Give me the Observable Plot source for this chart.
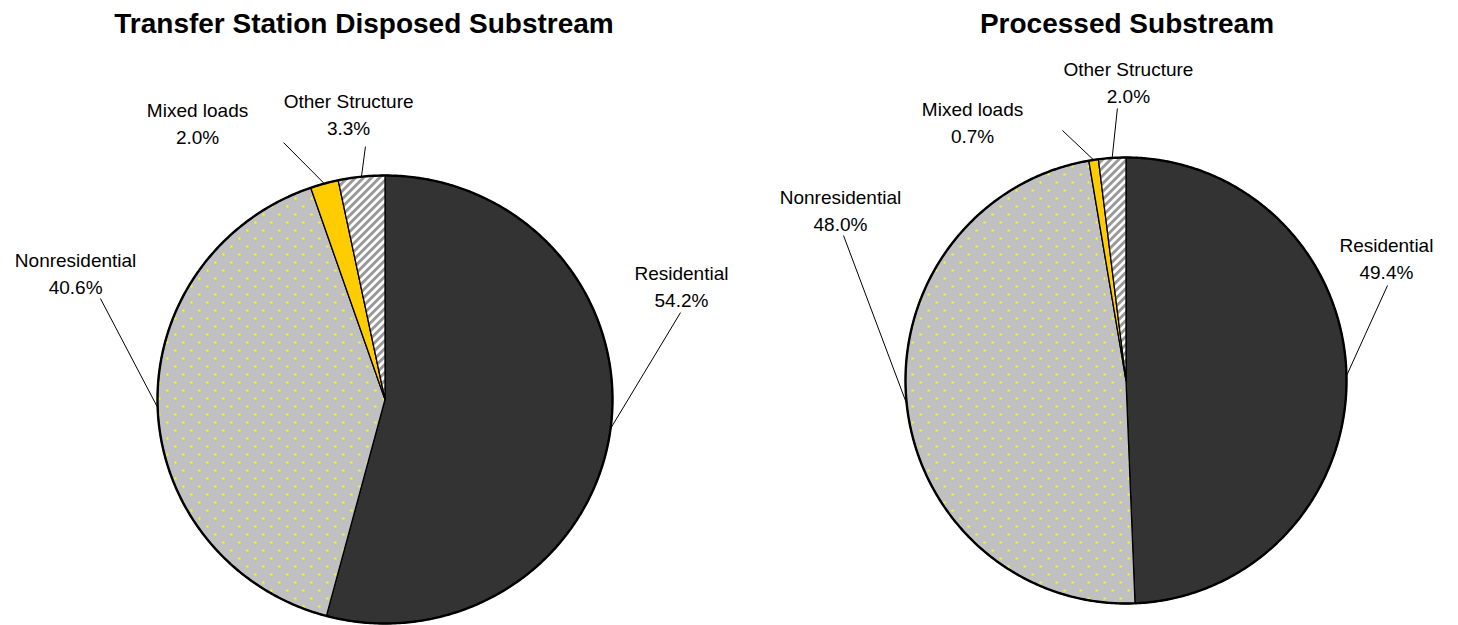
<!DOCTYPE html>
<html><head><meta charset="utf-8">
<script src="https://cdn.jsdelivr.net/npm/d3@7"></script>
<script src="https://cdn.jsdelivr.net/npm/@observablehq/plot@0.6"></script>
<style>
body{margin:0;background:#fff;font-family:"Liberation Sans",Arial,sans-serif;}
#wrap{position:relative;width:1458px;height:625px;overflow:hidden;background:#fff}
.title{position:absolute;top:8px;font-weight:bold;font-size:28px;line-height:32px;white-space:nowrap;transform:translateX(-50%);color:#000}
.panel{position:absolute;top:50px}
</style></head><body>
<svg width="0" height="0" style="position:absolute">
  <defs>
    <pattern id="dots" patternUnits="userSpaceOnUse" width="16" height="16">
      <rect width="16" height="16" fill="#C0C0C0"/>
      <rect x="6" y="3" width="2" height="2" fill="#FFFF00"/>
      <rect x="14" y="11" width="2" height="2" fill="#FFFF00"/>
    </pattern>
    <pattern id="stripes" patternUnits="userSpaceOnUse" width="5.66" height="5.66" patternTransform="rotate(45)">
      <rect width="5.66" height="5.66" fill="#FFFFFF"/>
      <rect width="2.9" height="5.66" fill="#999999"/>
    </pattern>
  </defs>
</svg>
<div id="wrap"></div>
<script>
// ---- data ----
const categories = ["Residential", "Nonresidential", "Mixed loads", "Other Structure"];
const chartTitles = ["Transfer Station Disposed Substream", "Processed Substream"];
const disposedValues = [54.2, 40.6, 2.0, 3.3];
const processedValues = [49.4, 48.0, 0.7, 2.0];

// ---- styles ----
const sliceFills = ["#333333", "url(#dots)", "#FFCC00", "url(#stripes)"];

// ---- layout (pixel boxes of each pie, label anchors in pie-radius units) ----
const layouts = [
  {
    values: disposedValues, title: chartTitles[0], left: 0, titleX: 364,
    box: {L: 157, R: 612, T: 125, B: 573},
    labelPos: [[1.303, -0.513], [-1.36, -0.571], [-0.824, -1.241], [-0.16, -1.281]],
    leaderEnd: [[1.299, -0.388], [-1.251, -0.451], [-0.446, -1.147], [-0.086, -1.129]]
  },
  {
    values: processedValues, title: chartTitles[1], left: 729, titleX: 1127,
    box: {L: 176, R: 617, T: 107, B: 553},
    labelPos: [[1.181, -0.556], [-1.295, -0.771], [-0.696, -1.166], [0.011, -1.345]],
    leaderEnd: [[1.186, -0.426], [-1.281, -0.650], [-0.288, -1.121], [-0.039, -1.220]]
  }
];

const wrap = document.getElementById("wrap");

function arcPoints(a0, a1) {
  const n = Math.max(2, Math.ceil((a1 - a0) / 0.01));
  const pts = [];
  for (let k = 0; k <= n; k++) {
    const a = a0 + (a1 - a0) * k / n;
    pts.push({x: Math.sin(a), y: -Math.cos(a)});
  }
  return pts;
}

for (const lay of layouts) {
  const t = document.createElement("div");
  t.className = "title";
  t.style.left = lay.titleX + "px";
  t.textContent = lay.title;
  wrap.appendChild(t);

  const arcs = d3.pie().sort(null).value(d => d)(lay.values);
  const marks = [];
  arcs.forEach((a, i) => {
    const pts = [{x: 0, y: 0}, ...arcPoints(a.startAngle, a.endAngle), {x: 0, y: 0}];
    marks.push(Plot.line(pts, {x: "x", y: "y", fill: sliceFills[i], stroke: "#000", strokeWidth: 1.3, strokeLinejoin: "round"}));
  });
  // thick outer rim
  marks.push(Plot.line(arcPoints(0, 2 * Math.PI), {x: "x", y: "y", stroke: "#000", strokeWidth: 2.4}));

  const labels = arcs.map((a, i) => {
    const mid = (a.startAngle + a.endAngle) / 2;
    return {
      text: categories[i] + "\n" + lay.values[i].toFixed(1) + "%",
      lx: lay.labelPos[i][0], ly: lay.labelPos[i][1],
      x1: Math.sin(mid), y1: -Math.cos(mid),
      x2: lay.leaderEnd[i][0], y2: lay.leaderEnd[i][1]
    };
  });
  marks.push(Plot.link(labels, {x1: "x1", y1: "y1", x2: "x2", y2: "y2", stroke: "#000", strokeWidth: 1}));
  marks.push(Plot.text(labels, {x: "lx", y: "ly", text: "text", fontSize: 19, lineHeight: 1.45, fill: "#000", fontFamily: "Liberation Sans, Arial, sans-serif"}));

  const chart = Plot.plot({
    width: 729, height: 575,
    margin: 0,
    x: {domain: [-1, 1], range: [lay.box.L, lay.box.R], axis: null},
    y: {domain: [-1, 1], range: [lay.box.T, lay.box.B], axis: null},
    style: {background: "transparent", overflow: "visible"},
    marks
  });
  const p = document.createElement("div");
  p.className = "panel";
  p.style.left = lay.left + "px";
  p.appendChild(chart);
  wrap.appendChild(p);
}
</script>
</body></html>
